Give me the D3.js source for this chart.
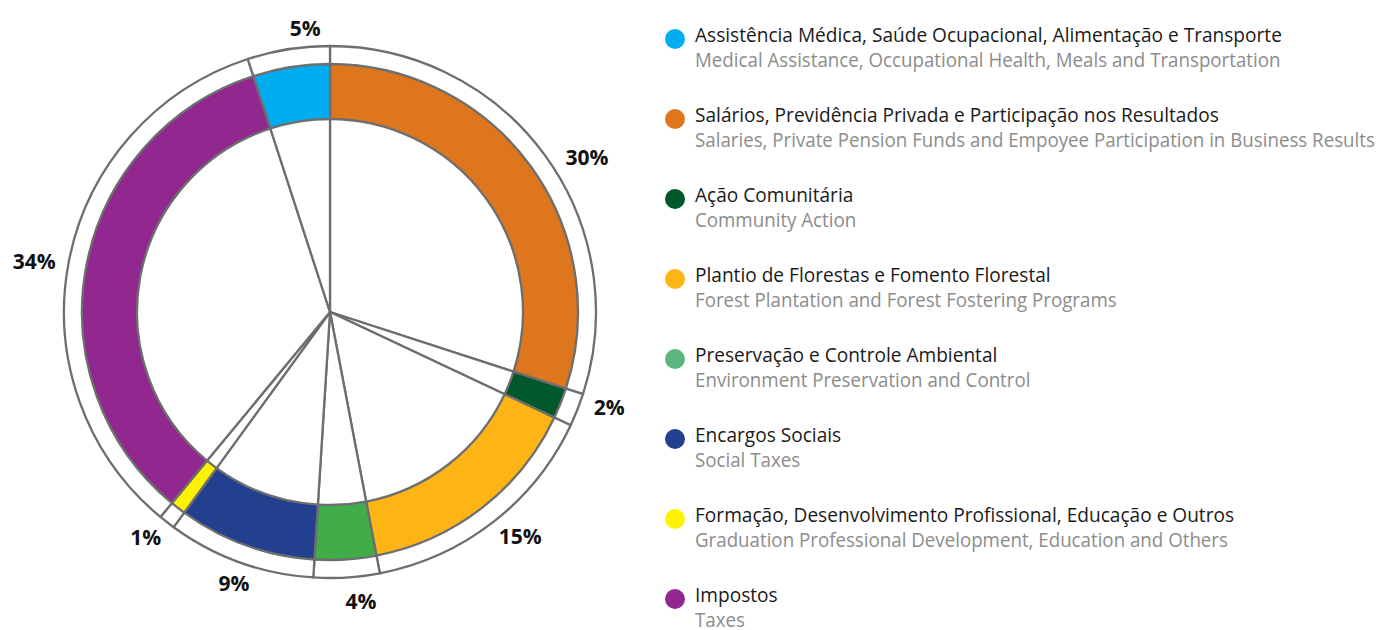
<!DOCTYPE html>
<html><head><meta charset="utf-8">
<script src="https://cdn.jsdelivr.net/npm/d3@7"></script>
<style>
html,body{margin:0;padding:0;background:#fff;}
svg{display:block;}
</style></head>
<body>
<svg id="chart" width="1378" height="630"></svg>
<script>
// ---- data ----
const categoriesPT = [
  "Salários, Previdência Privada e Participação nos Resultados",
  "Ação Comunitária",
  "Plantio de Florestas e Fomento Florestal",
  "Preservação e Controle Ambiental",
  "Encargos Sociais",
  "Formação, Desenvolvimento Profissional, Educação e Outros",
  "Impostos",
  "Assistência Médica, Saúde Ocupacional, Alimentação e Transporte"
];
const categoriesEN = [
  "Salaries, Private Pension Funds and Empoyee Participation in Business Results",
  "Community Action",
  "Forest Plantation and Forest Fostering Programs",
  "Environment Preservation and Control",
  "Social Taxes",
  "Graduation Professional Development, Education and Others",
  "Taxes",
  "Medical Assistance, Occupational Health, Meals and Transportation"
];
const values = [30, 2, 15, 4, 9, 1, 34, 5];
const valueLabels = ["30%", "2%", "15%", "4%", "9%", "1%", "34%", "5%"];
const colors = ["#DD761C", "#00582A", "#FDB515", "#41AD49", "#23408E", "#FFF200", "#92278F", "#00AEEF"];
const legendColors = ["#DD761C", "#00582A", "#FDB515", "#5DB67F", "#23408E", "#FFF200", "#92278F", "#00AEEF"];
const legendOrder = [7, 0, 1, 2, 3, 4, 5, 6];

// ---- layout ----
const cx = 330, cy = 312;
const rOuter = 266, rDonutOut = 248, rDonutIn = 193;
const stroke = "#6d6e70";
// placement of the percentage labels: [angle offset from slice middle (deg), radius]
const labelLayout = [[4.9, 300], [-2.8, 295], [-2.5, 294], [-2.5, 291], [-0.3, 288], [1.5, 291], [-1.2, 300], [4.0, 285]];

const svg = d3.select("#chart");
const g = svg.append("g").attr("transform", `translate(${cx},${cy})`);

const pie = d3.pie().sort(null).value(d => d).startAngle(0).endAngle(2 * Math.PI);
const arcs = pie(values);

const bigArc = d3.arc().innerRadius(0).outerRadius(rOuter);
const donutArc = d3.arc().innerRadius(rDonutIn).outerRadius(rDonutOut);

g.selectAll("path.slice").data(arcs).join("path")
  .attr("class", "slice")
  .attr("d", bigArc)
  .attr("fill", "#fff")
  .attr("stroke", stroke)
  .attr("stroke-width", 2.3)
  .attr("stroke-linejoin", "round");

g.selectAll("path.donut").data(arcs).join("path")
  .attr("class", "donut")
  .attr("d", donutArc)
  .attr("fill", (d, i) => colors[i])
  .attr("stroke", stroke)
  .attr("stroke-width", 2.3);

const labAngle = (d, i) => (d.startAngle + d.endAngle) / 2 + labelLayout[i][0] * Math.PI / 180;
g.selectAll("text.pct").data(arcs).join("text")
  .attr("class", "pct")
  .attr("x", (d, i) => labelLayout[i][1] * Math.sin(labAngle(d, i)))
  .attr("y", (d, i) => -labelLayout[i][1] * Math.cos(labAngle(d, i)) + 7.5)
  .attr("text-anchor", "middle")
  .attr("font-family", "'Open Sans', sans-serif")
  .attr("font-weight", 700)
  .attr("font-size", 21)
  .attr("fill", "#111")
  .text((d, i) => valueLabels[i]);

// ---- legend ----
const lx = 675, tx = 695, ly0 = 39, lstep = 80;
const leg = svg.append("g");
const items = leg.selectAll("g.item").data(legendOrder).join("g")
  .attr("class", "item")
  .attr("transform", (d, k) => `translate(0,${ly0 + k * lstep})`);
items.append("circle").attr("cx", lx).attr("cy", 0).attr("r", 10)
  .attr("fill", d => legendColors[d]);
items.append("text").attr("class", "lt1").attr("x", 0).attr("y", 2.5)
  .attr("font-family", "'Open Sans', sans-serif").attr("font-size", 20)
  .attr("fill", "#1a1a1a").text(d => categoriesPT[d]);
items.append("text").attr("class", "lt2").attr("x", 0).attr("y", 28)
  .attr("font-family", "'Open Sans', sans-serif").attr("font-size", 19.5)
  .attr("fill", "#8c8c8c").text(d => categoriesEN[d]);

// horizontal condense to match the narrow original typeface
function fit(sel, target) {
  let maxW = 0;
  sel.each(function () { maxW = Math.max(maxW, this.getComputedTextLength()); });
  sel.attr("transform", `translate(${tx},0) scale(${target / maxW},1)`);
}
fit(leg.selectAll("text.lt1"), 587);
fit(leg.selectAll("text.lt2"), 680);
</script>
</body></html>
